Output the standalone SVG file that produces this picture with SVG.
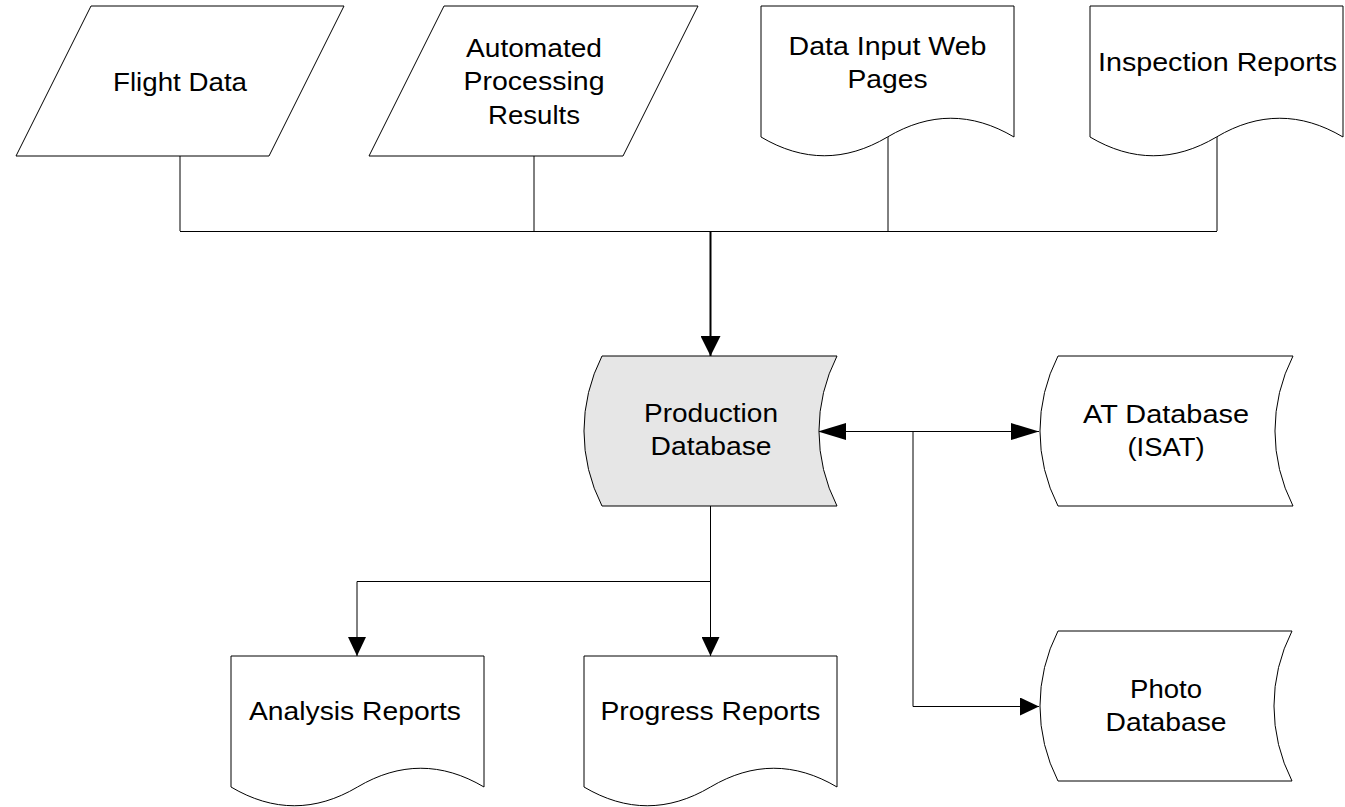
<svg xmlns="http://www.w3.org/2000/svg" width="1345" height="807" viewBox="0 0 1345 807">
<style>
.shape{fill:#ffffff;stroke:#000000;stroke-width:1}
.db{stroke:#000000;stroke-width:1}
.grey{fill:#e6e6e6}
.white{fill:#ffffff}
.lbl{font-family:"Liberation Sans",Arial,sans-serif;font-size:25.5px;fill:#000000;text-anchor:middle}
.conn{fill:none;stroke:#000000;stroke-width:1}
.main{fill:none;stroke:#000000;stroke-width:2}
</style>
<defs>
<marker id="ahMain" markerUnits="userSpaceOnUse" markerWidth="20" markerHeight="20" refX="20" refY="10" orient="auto">
<path d="M0,0 L20,10 L0,20 Z" fill="#000"/>
</marker>
<marker id="ahSmall" markerUnits="userSpaceOnUse" markerWidth="19" markerHeight="18" refX="19" refY="9" orient="auto">
<path d="M0,0 L19,9 L0,18 Z" fill="#000"/>
</marker>
<marker id="ahLong" markerUnits="userSpaceOnUse" markerWidth="28" markerHeight="17" refX="28" refY="8.5" orient="auto-start-reverse">
<path d="M0,0 L28,8.5 L0,17 Z" fill="#000"/>
</marker>
</defs>

<g id="connectors">
<line class="conn" x1="180" y1="156" x2="180" y2="231"/>
<line class="conn" x1="534" y1="156" x2="534" y2="231"/>
<line class="conn" x1="888" y1="130" x2="888" y2="231"/>
<line class="conn" x1="1217" y1="130" x2="1217" y2="231"/>
<line class="conn" x1="180" y1="231.5" x2="1217" y2="231.5"/>
<line class="main" x1="710.5" y1="231" x2="710.5" y2="356" marker-end="url(#ahMain)"/>
<line class="conn" x1="818" y1="431.5" x2="1039" y2="431.5" marker-start="url(#ahLong)" marker-end="url(#ahLong)"/>
<polyline class="conn" points="913,431.5 913,706.5 1039,706.5" marker-end="url(#ahSmall)"/>
<line class="conn" x1="710.5" y1="506" x2="710.5" y2="656" marker-end="url(#ahSmall)"/>
<polyline class="conn" points="710.5,581.5 357,581.5 357,656" marker-end="url(#ahSmall)"/>
</g>

<g id="flight-data">
<path class="shape" d="M91,6 L344,6 L269,156 L16,156 Z"/>
<text class="lbl" x="180" y="91" textLength="134" lengthAdjust="spacingAndGlyphs">Flight Data</text>
</g>

<g id="automated-processing-results">
<path class="shape" d="M444,6 L698,6 L623,156 L369,156 Z"/>
<text class="lbl" x="534" y="57" textLength="136" lengthAdjust="spacingAndGlyphs">Automated</text>
<text class="lbl" x="534" y="90" textLength="141" lengthAdjust="spacingAndGlyphs">Processing</text>
<text class="lbl" x="534" y="123.5" textLength="92" lengthAdjust="spacingAndGlyphs">Results</text>
</g>

<g id="data-input-web-pages">
<path class="shape" d="M761,6 H1014 V137 C971.8,112 929.7,112 887.5,137 C845.3,162 803.2,162 761,137 Z"/>
<text class="lbl" x="887.5" y="55" textLength="198" lengthAdjust="spacingAndGlyphs">Data Input Web</text>
<text class="lbl" x="887.5" y="88" textLength="80" lengthAdjust="spacingAndGlyphs">Pages</text>
</g>

<g id="inspection-reports">
<path class="shape" d="M1090,6 H1343 V137 C1300.8,112 1258.7,112 1216.5,137 C1174.3,162 1132.2,162 1090,137 Z"/>
<text class="lbl" x="1217.5" y="71" textLength="239" lengthAdjust="spacingAndGlyphs">Inspection Reports</text>
</g>

<g id="production-database">
<path class="db grey" d="M602,356 H837 A165,165 0 0 0 837,506 H602 A165,165 0 0 1 602,356 Z"/>
<text class="lbl" x="711" y="422" textLength="134" lengthAdjust="spacingAndGlyphs">Production</text>
<text class="lbl" x="711" y="455" textLength="121" lengthAdjust="spacingAndGlyphs">Database</text>
</g>

<g id="at-database">
<path class="db white" d="M1058,356 H1293 A165,165 0 0 0 1293,506 H1058 A165,165 0 0 1 1058,356 Z"/>
<text class="lbl" x="1166" y="423" textLength="166" lengthAdjust="spacingAndGlyphs">AT Database</text>
<text class="lbl" x="1166" y="456" textLength="77" lengthAdjust="spacingAndGlyphs">(ISAT)</text>
</g>

<g id="photo-database">
<path class="db white" d="M1058,631 H1292 A165,165 0 0 0 1292,781 H1058 A165,165 0 0 1 1058,631 Z"/>
<text class="lbl" x="1166" y="698" textLength="72" lengthAdjust="spacingAndGlyphs">Photo</text>
<text class="lbl" x="1166" y="731" textLength="121" lengthAdjust="spacingAndGlyphs">Database</text>
</g>

<g id="analysis-reports">
<path class="shape" d="M231,656 H484 V787 C441.8,762 399.7,762 357.5,787 C315.3,812 273.2,812 231,787 Z"/>
<text class="lbl" x="355" y="720" textLength="212" lengthAdjust="spacingAndGlyphs">Analysis Reports</text>
</g>

<g id="progress-reports">
<path class="shape" d="M584,656 H837 V787 C794.8,762 752.7,762 710.5,787 C668.3,812 626.2,812 584,787 Z"/>
<text class="lbl" x="710.5" y="720" textLength="220" lengthAdjust="spacingAndGlyphs">Progress Reports</text>
</g>
</svg>
